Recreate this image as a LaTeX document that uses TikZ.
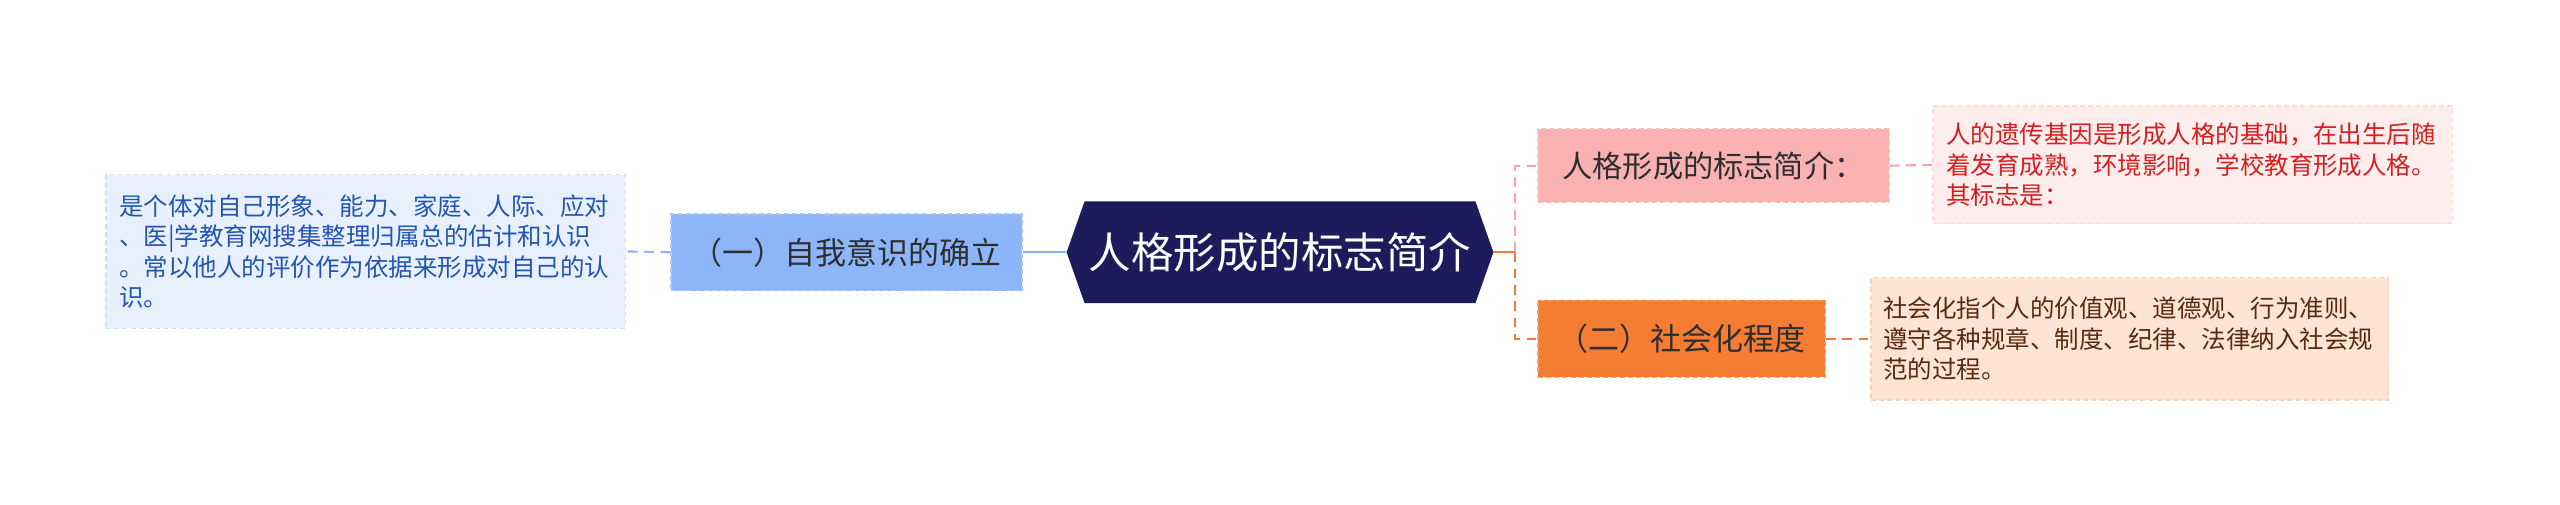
\documentclass[tikz,border=0pt]{standalone}
\usepackage{fontspec}
\setmainfont{Noto Sans CJK SC}
\usetikzlibrary{backgrounds,calc}
\definecolor{navy}{HTML}{1D1B5C}
\definecolor{bonefill}{HTML}{8DB6FA}
\definecolor{boneline}{HTML}{A9C8FB}
\definecolor{lonefill}{HTML}{E8F0FE}
\definecolor{loneline}{HTML}{CFE0FB}
\definecolor{lonetext}{HTML}{2256B0}
\definecolor{btwofill}{HTML}{F9B1B1}
\definecolor{btwoline}{HTML}{F5C2C2}
\definecolor{ltwofill}{HTML}{FEEDED}
\definecolor{ltwoline}{HTML}{FBDCDC}
\definecolor{ltwotext}{HTML}{D42020}
\definecolor{bthreefill}{HTML}{F57C33}
\definecolor{bthreeline}{HTML}{F9A56F}
\definecolor{lthreefill}{HTML}{FDE4D5}
\definecolor{lthreeline}{HTML}{F9D2BA}
\definecolor{lthreetext}{HTML}{5A2A10}
\definecolor{darktext}{HTML}{2E2E2E}
\definecolor{cblue}{HTML}{8AB4F8}
\definecolor{cpink}{HTML}{F3A6A6}
\definecolor{corange}{HTML}{F07A30}
\tikzset{
  boxdash/.style={dash pattern=on 3pt off 2pt, line width=0.8pt},
  branchbox/.style={boxdash, inner sep=0pt, text=darktext, font=\fontsize{19}{22}\selectfont},
  leafbox/.style={boxdash, inner sep=0pt, font=\fontsize{15}{18.6}\selectfont, align=left},
  conn/.style={line width=1.3pt, dash pattern=on 6pt off 4pt},
}
\begin{document}
\begin{tikzpicture}[x=1pt,y=-1pt]
\useasboundingbox (0,0) rectangle (1568,309);
% centre
\node[minimum width=239pt, minimum height=62pt, inner sep=0pt, text=white,
      font=\fontsize{26}{30}\selectfont] (c) at (784,154.5) {人格形成的标志简介};
\begin{pgfonlayer}{background}
\fill[navy] (c.north west) -- (c.north east) -- ($(c.east)+(11,0)$) -- (c.south east)
  -- (c.south west) -- ($(c.west)+(-11,0)$) -- cycle;
\end{pgfonlayer}
% left branch
\node[branchbox, draw=boneline, fill=bonefill, minimum width=215pt, minimum height=47pt]
  (b1) at (518.5,154.5) {（一）自我意识的确立};
\node[leafbox, draw=loneline, fill=lonefill, text=lonetext, minimum width=318pt,
  minimum height=94pt, text width=302pt] (l1) at (224,154)
  {是个体对自己形象、能力、家庭、人际、应对\\、医|学教育网搜集整理归属总的估计和认识\\。常以他人的评价作为依据来形成对自己的认\\识。};
% right top
\node[branchbox, draw=btwoline, fill=btwofill, minimum width=215pt, minimum height=45pt,
  font=\fontsize{18.5}{22}\selectfont] (b2) at (1049.5,101.5) {人格形成的标志简介：};
\node[leafbox, draw=ltwoline, fill=ltwofill, text=ltwotext, minimum width=318pt,
  minimum height=72pt, text width=302pt] (l2) at (1343,101)
  {人的遗传基因是形成人格的基础，在出生后随\\着发育成熟，环境影响，学校教育形成人格。\\其标志是：};
% right bottom
\node[branchbox, draw=bthreeline, fill=bthreefill, minimum width=176pt, minimum height=47pt]
  (b3) at (1030,207.5) {（二）社会化程度};
\node[leafbox, draw=lthreeline, fill=lthreefill, text=lthreetext, minimum width=317pt,
  minimum height=75pt, text width=302pt] (l3) at (1304.5,207.5)
  {社会化指个人的价值观、道德观、行为准则、\\遵守各种规章、制度、纪律、法律纳入社会规\\范的过程。};
% connectors
\coordinate (j) at (928,154.5);
\begin{pgfonlayer}{background}
\draw[cblue, line width=1.5pt] ($(c.west)+(-11,0)$) -- (b1.east);
\draw[cblue, conn] (b1.west) -- (l1.east);
\draw[corange, line width=1.5pt] ($(c.east)+(11,0)$) -- (j);
\draw[cpink, conn] (j) |- (b2.west);
\draw[corange, conn] (j) |- (b3.west);
\draw[cpink, conn] (b2.east) -- (l2.west);
\draw[corange, conn] (b3.east) -- (l3.west);
\end{pgfonlayer}
\end{tikzpicture}
\end{document}
